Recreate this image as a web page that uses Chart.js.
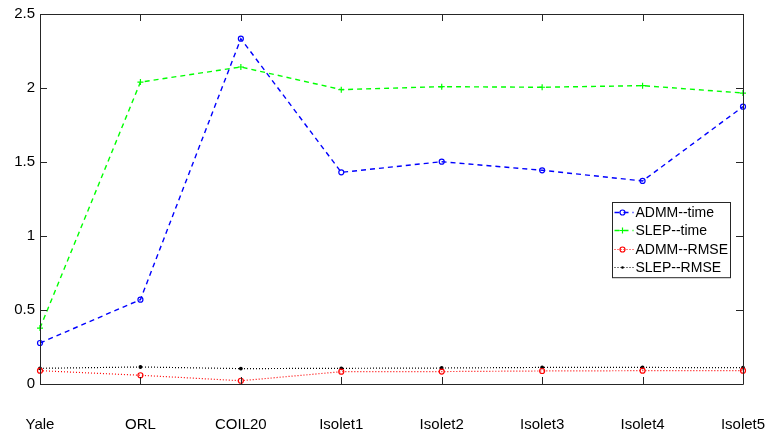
<!DOCTYPE html>
<html>
<head>
<meta charset="utf-8">
<script src="https://cdn.jsdelivr.net/npm/chart.js@4/dist/chart.umd.min.js"></script>
<style>
  html, body { margin: 0; padding: 0; background: #fff; }
  #wrap { width: 772px; height: 435px; }
</style>
</head>
<body>
<div id="wrap"><canvas id="chart"></canvas></div>
<script>
const categories = ['Yale', 'ORL', 'COIL20', 'Isolet1', 'Isolet2', 'Isolet3', 'Isolet4', 'Isolet5'];
const admmTime = [0.277, 0.570, 2.333, 1.430, 1.502, 1.444, 1.372, 1.874];
const slepTime = [0.378, 2.040, 2.142, 1.989, 2.009, 2.005, 2.016, 1.966];
const admmRmse = [0.090, 0.059, 0.022, 0.083, 0.084, 0.088, 0.090, 0.090];
const slepRmse = [0.106, 0.115, 0.104, 0.106, 0.108, 0.112, 0.112, 0.110];
const yTicks = [0, 0.5, 1, 1.5, 2, 2.5];

const AXIS = '#262626';
const FONT = 'Liberation Sans, Arial, Helvetica, sans-serif';

function series(label, data, color, dash, marker, radius, width) {
  return {
    label, data,
    borderColor: color, backgroundColor: color,
    borderWidth: width, borderDash: dash,
    pointStyle: marker, pointRadius: radius, pointBorderWidth: 1.2,
    pointBackgroundColor: marker === 'circle' && radius < 2 ? color : 'rgba(0,0,0,0)',
    pointBorderColor: color,
    tension: 0, clip: false,
  };
}

// MATLAB-style box with inward ticks on all four sides
const boxPlugin = {
  id: 'box',
  afterDatasetsDraw(chart) {
    const { ctx, chartArea: a, scales: { x, y } } = chart;
    const t = 7;
    ctx.save();
    ctx.strokeStyle = AXIS;
    ctx.lineWidth = 1;
    ctx.beginPath();
    ctx.rect(a.left + 0.5, a.top + 0.5, a.right - a.left, a.bottom - a.top);
    x.ticks.forEach((_, i) => {
      const px = Math.round(x.getPixelForTick(i)) + 0.5;
      ctx.moveTo(px, a.bottom); ctx.lineTo(px, a.bottom - t);
      ctx.moveTo(px, a.top); ctx.lineTo(px, a.top + t);
    });
    y.ticks.forEach((_, i) => {
      const py = Math.round(y.getPixelForTick(i)) + 0.5;
      ctx.moveTo(a.left, py); ctx.lineTo(a.left + t, py);
      ctx.moveTo(a.right, py); ctx.lineTo(a.right - t, py);
    });
    ctx.stroke();
    ctx.restore();
  }
};

function drawMarker(ctx, style, r, cx, cy, color) {
  ctx.setLineDash([]);
  ctx.strokeStyle = color;
  ctx.fillStyle = color;
  ctx.lineWidth = 1.2;
  ctx.beginPath();
  if (style === 'cross') {
    ctx.moveTo(cx - r, cy); ctx.lineTo(cx + r, cy);
    ctx.moveTo(cx, cy - r); ctx.lineTo(cx, cy + r);
    ctx.stroke();
  } else if (r < 2) {
    ctx.arc(cx, cy, r, 0, Math.PI * 2);
    ctx.fill();
  } else {
    ctx.arc(cx, cy, r, 0, Math.PI * 2);
    ctx.stroke();
  }
}

// legend box drawn inside the plot, like the reference
const legendPlugin = {
  id: 'boxLegend',
  afterDraw(chart) {
    const { ctx } = chart;
    const ds = chart.data.datasets;
    const left = 612.5, top = 202.5, w = 118, rowH = 18.3;
    ctx.save();
    ctx.fillStyle = '#fff';
    ctx.fillRect(left, top, w, rowH * ds.length + 2);
    ctx.strokeStyle = AXIS;
    ctx.lineWidth = 1;
    ctx.strokeRect(left, top, w, rowH * ds.length + 2);
    ctx.font = '14px ' + FONT;
    ctx.textBaseline = 'middle';
    ds.forEach((d, i) => {
      const cy = Math.round(top + 9.5 + i * rowH) + 0.5;
      ctx.strokeStyle = d.borderColor;
      ctx.lineWidth = d.borderWidth;
      ctx.setLineDash(d.borderDash);
      ctx.beginPath();
      ctx.moveTo(left + 2, cy); ctx.lineTo(left + 21, cy);
      ctx.stroke();
      drawMarker(ctx, d.pointStyle, d.pointRadius, left + 10, cy, d.borderColor);
      ctx.fillStyle = '#000';
      ctx.fillText(d.label, left + 23, cy + 1);
    });
    ctx.restore();
  }
};

new Chart(document.getElementById('chart'), {
  type: 'line',
  data: {
    labels: categories,
    datasets: [
      series('ADMM--time', admmTime, '#0000ff', [5, 4], 'circle', 2.5, 1.4),
      series('SLEP--time', slepTime, '#00ff00', [5, 4], 'cross', 3, 1.4),
      series('ADMM--RMSE', admmRmse, '#ff0000', [1, 2], 'circle', 2.5, 1.2),
      series('SLEP--RMSE', slepRmse, '#000000', [1, 2], 'circle', 1.3, 1.2),
    ]
  },
  options: {
    responsive: true,
    maintainAspectRatio: false,
    animation: false,
    layout: { padding: { top: 14, right: 29, left: 0, bottom: 0 } },
    plugins: { legend: { display: false }, tooltip: { enabled: false } },
    scales: {
      x: {
        type: 'category',
        offset: false,
        grid: { display: false, drawTicks: false },
        border: { display: false },
        ticks: { color: '#000', font: { family: FONT, size: 15 }, padding: 32, maxRotation: 0, autoSkip: false },
        afterFit: s => { s.height = 51; s.paddingLeft = 0; s.paddingRight = 0; }
      },
      y: {
        min: 0, max: 2.5,
        afterBuildTicks: s => { s.ticks = yTicks.map(v => ({ value: v })); },
        grid: { display: false, drawTicks: false },
        border: { display: false },
        ticks: { color: '#000', font: { family: FONT, size: 15 }, padding: 5, callback: v => String(v) },
        afterFit: s => { s.width = 40; s.paddingTop = 0; s.paddingBottom = 0; }
      }
    }
  },
  plugins: [boxPlugin, legendPlugin]
});
</script>
</body>
</html>
